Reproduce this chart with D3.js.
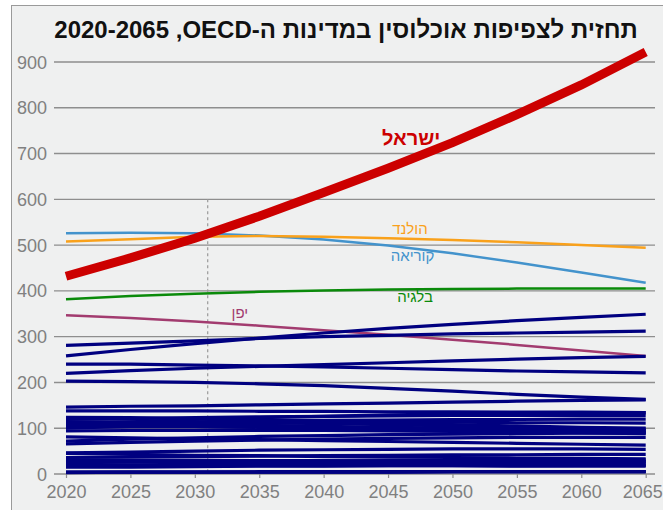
<!DOCTYPE html>
<html><head><meta charset="utf-8">
<script src="https://cdn.jsdelivr.net/npm/d3@7"></script>
<style>body{margin:0;background:#fff}svg{display:block}text{font-family:"Liberation Sans",Arial,sans-serif}</style>
</head><body><svg id="c" width="663" height="510"></svg>
<script>
const years = [2020,2025,2030,2035,2040,2045,2050,2055,2060,2065];
const xTicks = [2020,2025,2030,2035,2040,2045,2050,2055,2060,2065];
const yTicks = [0,100,200,300,400,500,600,700,800,900];
const title = "תחזית לצפיפות אוכלוסין במדינות ה-OECD,\u200F 2020-2065";

const israel      = [432,472,515,563,615,668,724,785,850,922];
const netherlands = [508,513,518,520,518,515,511,506,500,494];
const korea       = [526,527,526,521,512,499,482,462,440,418];
const belgium     = [382,389,394,398,401,403,404,405,405,405];
const japan       = [347,341,333,324,314,304,293,282,270,258];

const highlighted = [
  {name:"יפן", values:japan, color:"#a23b6f", width:2.5, lx:2033.5, ly:318, size:15, weight:"normal"},
  {name:"בלגיה", values:belgium, color:"#0a8a0a", width:2.5, lx:2047.1, ly:302, size:15, weight:"normal"},
  {name:"קוריאה", values:korea, color:"#4393cc", width:2.5, lx:2046.9, ly:261, size:15, weight:"normal"},
  {name:"הולנד", values:netherlands, color:"#f9a11b", width:2.5, lx:2046.7, ly:234, size:15, weight:"normal"},
  {name:"ישראל", values:israel, color:"#cc0000", width:9, lx:2046.8, ly:145, size:20, weight:"bold"}
];

const others = [
  [281,286,291,296,300,303,306,308,310,312],
  [258,272,285,297,308,318,327,335,342,349],
  [240,240,238,236,234,231,228,225,223,221],
  [220,226,231,235,239,243,247,251,254,257],
  [203,202,200,197,193,187,181,174,168,163],
  [146,148,149,151,153,155,157,159,161,162],
  [138,138,138,137,137,136,136,135,135,134],
  [119,121,123,125,126,127,128,128,128,128],
  [124,123,121,118,115,111,108,105,102,100],
  [114,114,113,112,110,108,105,102,100,98],
  [112,110,108,106,104,102,100,98,96,94],
  [109,112,114,116,117,118,119,119,120,120],
  [109,114,119,123,126,129,131,132,133,134],
  [107,106,104,102,100,98,95,93,90,88],
  [103,103,103,102,101,100,99,97,96,95],
  [100,104,107,110,112,113,113,112,112,111],
  [94,95,95,95,95,94,93,92,91,90],
  [81,79,77,75,73,71,69,67,65,63],
  [72,76,79,82,84,86,87,88,89,90],
  [66,69,72,74,76,78,79,80,80,80],
  [46,48,50,52,53,54,55,55,55,54],
  [45,43,41,40,38,37,36,35,34,33],
  [36,37,38,39,40,41,42,42,43,43],
  [31,30,30,29,29,28,28,28,27,27],
  [30,29,27,26,25,24,23,22,21,20],
  [26,27,27,28,28,28,28,28,27,27],
  [25,26,27,28,28,29,29,30,30,31],
  [19,20,21,22,22,23,23,24,24,24],
  [18,18,18,18,18,18,18,17,17,17],
  [15,15,16,17,17,18,18,18,19,19],
  [4,4,4,4,4,4,5,5,5,5],
  [4,4,4,5,5,5,5,5,5,5],
  [3,4,4,4,4,4,5,5,5,5]
];
const markerYear = 2031;
const markerTop = 600;

const svg = d3.select("#c");
svg.append("rect").attr("x",11.5).attr("y",5.5).attr("width",700).attr("height",600)
  .attr("fill","#eff0f0").attr("stroke","#9a9a9a").attr("stroke-width",1);

const x = d3.scaleLinear().domain([2020,2065]).range([66,645.7]);
const y = d3.scaleLinear().domain([0,900]).range([474,62]);

svg.append("g").selectAll("line").data(yTicks).join("line")
  .attr("x1",54).attr("x2",655).attr("y1",d=>y(d)).attr("y2",d=>y(d))
  .attr("stroke","#8e8e8e").attr("stroke-width",1.4);
svg.append("g").selectAll("text").data(yTicks).join("text")
  .attr("x",47).attr("y",d=>y(d)+6.5).attr("text-anchor","end")
  .attr("font-size",18).attr("fill","#808080").text(d=>d);

const xa = svg.append("g").attr("transform",`translate(0,${y(0)})`)
  .call(d3.axisBottom(x).tickValues(xTicks).tickFormat(d3.format("d")).tickSize(4).tickPadding(7));
xa.select(".domain").remove();
xa.selectAll(".tick line").attr("stroke","#8e8e8e").attr("stroke-width",1.2);
xa.selectAll(".tick text").attr("font-size",18).attr("fill","#808080")
  .attr("font-family","Liberation Sans, Arial, sans-serif");
xa.selectAll(".tick text").filter(d=>d===2065).attr("text-anchor","end").attr("x",16.5);

svg.append("line").attr("x1",x(markerYear)).attr("x2",x(markerYear))
  .attr("y1",y(markerTop)).attr("y2",y(0))
  .attr("stroke","#9a9a9a").attr("stroke-width",1.2).attr("stroke-dasharray","3,3");

const line = d3.line().x((d,i)=>x(years[i])).y(d=>y(d));

const hj = highlighted[0];
svg.append("path").attr("d",line(hj.values)).attr("fill","none")
  .attr("stroke",hj.color).attr("stroke-width",hj.width);

svg.append("g").selectAll("path").data(others).join("path")
  .attr("d",d=>line(d)).attr("fill","none").attr("stroke","#000080").attr("stroke-width",3.2);

highlighted.slice(1).forEach(s=>{
  svg.append("path").attr("d",line(s.values)).attr("fill","none")
    .attr("stroke",s.color).attr("stroke-width",s.width);
});

highlighted.forEach(s=>{
  svg.append("text").attr("x",x(s.lx)).attr("y",s.ly).attr("text-anchor","middle")
    .attr("font-size",s.size).attr("font-weight",s.weight).attr("fill",s.color).text(s.name);
});

svg.append("text").attr("x",346).attr("y",38).attr("text-anchor","middle")
  .attr("direction","rtl").attr("font-size",24).attr("font-weight","bold")
  .attr("fill","#111").text(title);
</script></body></html>
